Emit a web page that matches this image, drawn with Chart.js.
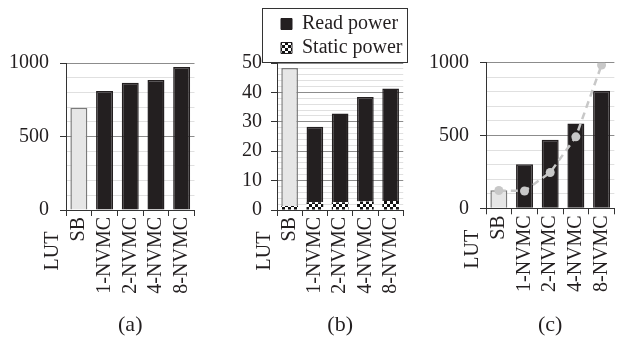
<!DOCTYPE html>
<html>
<head>
<meta charset="utf-8">
<script src="https://cdn.jsdelivr.net/npm/chart.js@4"></script>
<style>
    html, body { margin: 0; padding: 0; background: #fff; overflow: hidden; }
    body { width: 621px; height: 343px; position: relative; }
    canvas { position: absolute; top: 0; }
</style>
</head>
<body>
<canvas id="areaChart" width="207" height="343" style="left:0"></canvas>
<canvas id="powerChart" width="210" height="343" style="left:207px"></canvas>
<canvas id="delayChart" width="210" height="343" style="left:417px"></canvas>
<script>
const categories = ['SB', '1-NVMC', '2-NVMC', '4-NVMC', '8-NVMC'];
const lutText = 'LUT';
const panelTitles = ['(a)', '(b)', '(c)'];

// (a)
const areaValues = [695, 810, 866, 884, 973];
const areaTicks = [0, 500, 1000];

// (b)
const readPower = [46.9, 25.7, 30.2, 35.5, 38.2];
const staticPower = [1.4, 2.6, 2.6, 2.9, 3.1];
const powerTicks = [0, 10, 20, 30, 40, 50];

// (c)
const delayBars = [124, 303, 470, 583, 807];
const delayLine = [122, 119, 246, 491, 984];
const delayTicks = [0, 500, 1000];

const textColor = '#231f20';
const axisColor = '#333333';
const majorGrid = '#8c8c8c';
const minorGrid = '#e0e0e0';
const barDark = '#231f20';
const barLight = '#e6e6e6';
const barEdge = '#7a7a7a';

Chart.defaults.font.family = "'Liberation Serif', 'Times New Roman', serif";
Chart.defaults.font.size = 20;
Chart.defaults.color = textColor;

function checkerPattern() {
    const c = document.createElement('canvas');
    c.width = 6;
    c.height = 6;
    const g = c.getContext('2d');
    g.fillStyle = '#ffffff';
    g.fillRect(0, 0, 6, 6);
    g.fillStyle = '#111111';
    g.fillRect(0, 0, 3, 3);
    g.fillRect(3, 3, 3, 3);
    return g.createPattern(c, 'repeat');
}

const checker = checkerPattern();
const barColor = ctx => ctx.dataIndex === 0 ? barLight : barDark;
const edgeColor = ctx => ctx.dataIndex === 0 ? barEdge : barDark;

// "LUT" label sits one category to the left of the plot
const lutLabel = {
    id: 'lutLabel',
    afterDraw(chart) {
        const x = chart.scales.x;
        const ctx = chart.ctx;
        ctx.save();
        ctx.font = "20px 'Liberation Serif'";
        ctx.fillStyle = textColor;
        ctx.translate(x.getPixelForValue(-1), x.top + 41);
        ctx.rotate(-Math.PI / 2);
        ctx.textAlign = 'center';
        ctx.textBaseline = 'middle';
        ctx.fillText(lutText, 0, 0);
        ctx.restore();
    }
};

// frame around the legend of (b)
const legendFrame = {
    id: 'legendFrame',
    afterDraw(chart) {
        const lg = chart.legend;
        if (!lg || !lg.legendHitBoxes) return;
        const boxes = lg.legendHitBoxes;
        const left = Math.min(...boxes.map(b => b.left)) - 19;
        const right = Math.max(...boxes.map(b => b.left + b.width)) + 4;
        const top = lg.top - 2.5;
        const bottom = chart.chartArea.top - 1.5;
        const ctx = chart.ctx;
        ctx.save();
        ctx.strokeStyle = axisColor;
        ctx.lineWidth = 1;
        ctx.strokeRect(Math.round(left) + 0.5, Math.round(top) + 0.5, Math.round(right - left), Math.round(bottom - top));
        ctx.restore();
    }
};

function buildScales(o) {
    const isMajor = v => o.labels.includes(v);
    return {
        x: {
            stacked: !!o.stacked,
            offset: true,
            grid: { offset: true, drawOnChartArea: false, color: axisColor, tickLength: 6 },
            border: { color: axisColor },
            ticks: { minRotation: 90, maxRotation: 90, autoSkip: false, padding: 1 },
            title: { display: true, text: o.title, font: { size: 22 }, padding: { top: 0, bottom: 5 } },
            afterFit: s => { s.height = o.xHeight; }
        },
        y: {
            stacked: !!o.stacked,
            min: 0,
            max: o.max,
            grid: {
                color: c => isMajor(c.tick.value) ? majorGrid : minorGrid,
                tickColor: c => isMajor(c.tick.value) ? axisColor : 'rgba(0,0,0,0)',
                tickLength: 6
            },
            border: { color: axisColor },
            ticks: {
                stepSize: o.step,
                autoSkip: false,
                maxTicksLimit: 100,
                padding: o.tickPad,
                callback: v => isMajor(v) ? v : ''
            },
            afterFit: s => { s.width = o.yWidth; }
        }
    };
}

const baseOptions = {
    responsive: false,
    animation: false,
    events: [],
    plugins: { legend: { display: false }, tooltip: { enabled: false } }
};

new Chart(document.getElementById('areaChart'), {
    type: 'bar',
    data: {
        labels: categories,
        datasets: [{
            data: areaValues,
            backgroundColor: barColor,
            borderColor: edgeColor,
            borderWidth: 1.5,
            categoryPercentage: 1,
            barPercentage: 0.66
        }]
    },
    options: {
        ...baseOptions,
        layout: { padding: { left: 0, right: 3.5, top: 63, bottom: 0 } },
        scales: buildScales({ title: panelTitles[0], max: 1000, step: 100, labels: areaTicks, yWidth: 66, xHeight: 133, tickPad: 11 })
    },
    plugins: [lutLabel]
});

new Chart(document.getElementById('powerChart'), {
    type: 'bar',
    data: {
        labels: categories,
        datasets: [{
            label: 'Static power',
            data: staticPower,
            backgroundColor: checker,
            borderWidth: 0,
            categoryPercentage: 1,
            barPercentage: 0.66
        }, {
            label: 'Read power',
            data: readPower,
            backgroundColor: barColor,
            borderColor: edgeColor,
            borderWidth: 1.5,
            categoryPercentage: 1,
            barPercentage: 0.66
        }]
    },
    options: {
        ...baseOptions,
        layout: { padding: { left: 0, right: 3.7, top: 10, bottom: 0 } },
        plugins: {
            tooltip: { enabled: false },
            legend: {
                display: true,
                position: 'top',
                fullSize: false,
                align: 'start',
                reverse: true,
                maxHeight: 53,
                labels: {
                    boxWidth: 11,
                    boxHeight: 11,
                    padding: 4,
                    font: { size: 20 },
                    generateLabels: chart => Chart.defaults.plugins.legend.labels.generateLabels(chart).map(item => ({
                        ...item,
                        fillStyle: item.datasetIndex === 1 ? barDark : checker,
                        strokeStyle: barDark,
                        lineWidth: 1
                    }))
                }
            }
        },
        scales: buildScales({ title: panelTitles[1], stacked: true, max: 50, step: 2, labels: powerTicks, yWidth: 70, xHeight: 133, tickPad: 9 })
    },
    plugins: [lutLabel, legendFrame]
});

new Chart(document.getElementById('delayChart'), {
    type: 'bar',
    data: {
        labels: categories,
        datasets: [{
            type: 'line',
            data: delayLine,
            order: 0,
            borderColor: '#c8c8c8',
            borderWidth: 2.5,
            borderDash: [7, 5],
            pointRadius: 4.5,
            pointBackgroundColor: '#c8c8c8',
            pointBorderWidth: 0,
            tension: 0
        }, {
            data: delayBars,
            order: 1,
            backgroundColor: barColor,
            borderColor: edgeColor,
            borderWidth: 1.5,
            categoryPercentage: 1,
            barPercentage: 0.66
        }]
    },
    options: {
        ...baseOptions,
        layout: { padding: { left: 0, right: 4, top: 62.7, bottom: 0 } },
        scales: buildScales({ title: panelTitles[2], max: 1000, step: 100, labels: delayTicks, yWidth: 69, xHeight: 134.7, tickPad: 11 })
    },
    plugins: [lutLabel]
});
</script>
</body>
</html>
